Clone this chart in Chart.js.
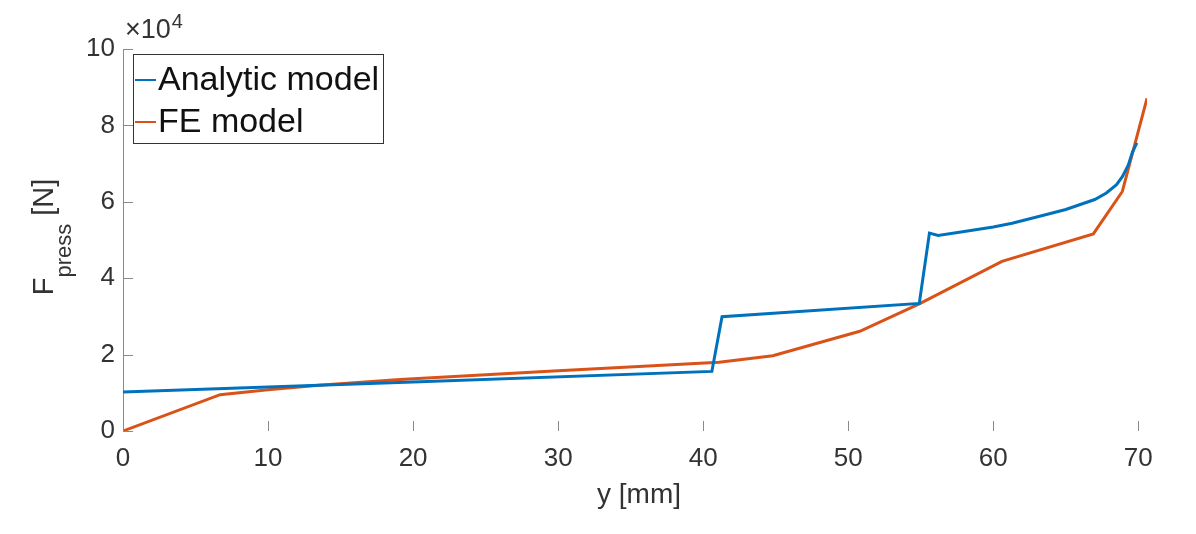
<!DOCTYPE html>
<html>
<head>
<meta charset="utf-8">
<script src="https://cdn.jsdelivr.net/npm/chart.js@4.4.1/dist/chart.umd.min.js"></script>
<style>
  html, body { margin: 0; padding: 0; background: #fff; }
</style>
</head>
<body>
<canvas id="myChart" width="1196" height="534"></canvas>
<script>
// values: y in mm, F in N
const analyticY = [0, 20, 40.6, 41.3, 54.9, 55.6, 56.2, 58, 60, 61.3, 63.2, 65, 66, 67, 67.8, 68.5, 68.9, 69.3, 69.6, 69.9];
const analyticF = [10200, 12800, 15600, 29900, 33400, 51800, 51200, 52200, 53400, 54400, 56200, 58000, 59300, 60600, 62300, 64500, 66600, 69500, 73000, 75400];

const feY = [0, 6.7, 10, 13.5, 19.1, 30, 41.1, 44.8, 50.8, 54.9, 60.6, 66.9, 68.9, 70.6];
const feF = [0, 9500, 10800, 12000, 13500, 15800, 18000, 19700, 26100, 33300, 44400, 51600, 62700, 87100];

const xTicks = [0, 10, 20, 30, 40, 50, 60, 70];
const yTicks = [0, 20000, 40000, 60000, 80000, 100000];

const seriesNames = ['Analytic model', 'FE model'];
const seriesColors = ['#0072BD', '#D95319'];

const fontFam = '"Liberation Sans", Arial, Helvetica, sans-serif';
const textColor = '#333333';
const axisColor = '#8a8a8a';

function toPoints(xs, ys) {
    return xs.map((v, i) => ({ x: v, y: ys[i] }));
}

// extra drawing: inward ticks, axis titles, exponent, legend box
const extras = {
    id: 'extras',
    beforeDraw(chart) {
        const ctx = chart.ctx;
        ctx.save();
        ctx.fillStyle = '#fff';
        ctx.fillRect(0, 0, chart.width, chart.height);
        ctx.restore();
    },
    afterDraw(chart) {
        const ctx = chart.ctx;
        const xs = chart.scales.x, ys = chart.scales.y;
        const a = chart.chartArea;
        ctx.save();

        // ticks pointing into the plot
        ctx.strokeStyle = axisColor;
        ctx.lineWidth = 1;
        ctx.beginPath();
        xTicks.forEach(v => {
            const px = Math.round(xs.getPixelForValue(v)) + 0.5;
            ctx.moveTo(px, a.bottom);
            ctx.lineTo(px, a.bottom - 10);
        });
        yTicks.forEach(v => {
            const py = Math.round(ys.getPixelForValue(v)) + 0.5;
            ctx.moveTo(a.left, py);
            ctx.lineTo(a.left + 10, py);
        });
        ctx.stroke();

        ctx.fillStyle = textColor;

        // x title
        ctx.font = '28px ' + fontFam;
        ctx.textAlign = 'center';
        ctx.textBaseline = 'alphabetic';
        ctx.fillText('y [mm]', (a.left + a.right) / 2 + 4, 503);

        // y title with subscript
        ctx.save();
        ctx.translate(53, (a.top + a.bottom) / 2 - 3);
        ctx.rotate(-Math.PI / 2);
        ctx.textAlign = 'left';
        const mainFont = '29px ' + fontFam, subFont = '22px ' + fontFam;
        ctx.font = mainFont; const wF = ctx.measureText('F').width;
        ctx.font = subFont; const wSub = ctx.measureText('press').width;
        ctx.font = mainFont; const wN = ctx.measureText(' [N]').width;
        let x0 = -(wF + wSub + wN) / 2;
        ctx.font = mainFont; ctx.fillText('F', x0, 0);
        ctx.font = subFont; ctx.fillText('press', x0 + wF, 18);
        ctx.font = mainFont; ctx.fillText(' [N]', x0 + wF + wSub, 0);
        ctx.restore();

        // exponent label
        ctx.textAlign = 'left';
        ctx.font = '27px ' + fontFam;
        ctx.fillText('\u00d710', 125, 38);
        const wx = ctx.measureText('\u00d710').width;
        ctx.font = '20px ' + fontFam;
        ctx.fillText('4', 125 + wx + 1, 28);

        // legend
        const lx = 133, ly = 54, lw = 250, lh = 89;
        ctx.fillStyle = '#fff';
        ctx.fillRect(lx, ly, lw, lh);
        ctx.strokeStyle = '#333';
        ctx.lineWidth = 1;
        ctx.strokeRect(lx + 0.5, ly + 0.5, lw, lh);
        ctx.font = '34px ' + fontFam;
        ctx.textBaseline = 'middle';
        chart.data.datasets.forEach((ds, i) => {
            const cy = 80 + i * 42;
            ctx.strokeStyle = ds.borderColor;
            ctx.lineWidth = 2;
            ctx.beginPath();
            ctx.moveTo(135, cy);
            ctx.lineTo(156, cy);
            ctx.stroke();
            ctx.fillStyle = '#111';
            ctx.fillText(ds.label, 158, cy + 1);
        });

        ctx.restore();
    }
};

const ctx = document.getElementById('myChart').getContext('2d');
const myChart = new Chart(ctx, {
    type: 'scatter',
    data: {
        datasets: [{
            label: seriesNames[0],
            data: toPoints(analyticY, analyticF),
            showLine: true,
            borderColor: seriesColors[0],
            backgroundColor: seriesColors[0],
            borderWidth: 3,
            pointRadius: 0,
            tension: 0
        }, {
            label: seriesNames[1],
            data: toPoints(feY, feF),
            showLine: true,
            borderColor: seriesColors[1],
            backgroundColor: seriesColors[1],
            borderWidth: 3,
            pointRadius: 0,
            tension: 0
        }]
    },
    options: {
        responsive: false,
        animation: false,
        layout: { padding: { left: 0, right: 49, top: 49, bottom: 0 } },
        plugins: {
            legend: { display: false },
            tooltip: { enabled: false }
        },
        scales: {
            x: {
                type: 'linear',
                min: 0,
                max: 70.6,
                grid: { display: false, drawTicks: false },
                border: { display: false },
                afterBuildTicks: s => { s.ticks = xTicks.map(v => ({ value: v })); },
                afterFit: s => { s.height = 103; },
                ticks: {
                    color: textColor,
                    padding: 12,
                    maxRotation: 0,
                    font: { size: 26, family: fontFam }
                }
            },
            y: {
                type: 'linear',
                min: 0,
                max: 100000,
                grid: { display: false, drawTicks: false },
                border: { display: true, color: axisColor, width: 1 },
                afterBuildTicks: s => { s.ticks = yTicks.map(v => ({ value: v })); },
                afterFit: s => { s.width = 123; },
                ticks: {
                    color: textColor,
                    padding: 8,
                    font: { size: 26, family: fontFam },
                    callback: v => String(v / 10000)
                }
            }
        }
    },
    plugins: [extras]
});
</script>
</body>
</html>
